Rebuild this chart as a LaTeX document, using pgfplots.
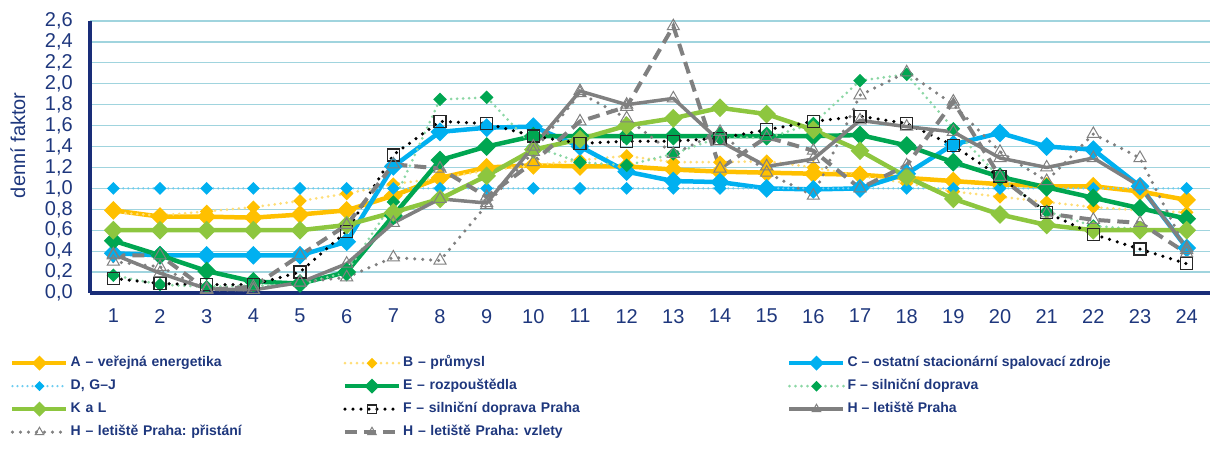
\documentclass[border=0pt]{standalone}
\usepackage{fontspec}
\setmainfont{Liberation Sans}
\usepackage{pgfplots}
\usepackage{pgfplotstable}
\pgfplotsset{compat=1.18}
\frenchspacing

\definecolor{navy}{RGB}{30,55,125}
\definecolor{axnavy}{RGB}{25,45,120}
\definecolor{gridc}{RGB}{160,212,222}
\definecolor{cA}{RGB}{255,192,0}
\definecolor{cB}{RGB}{255,222,120}
\definecolor{cC}{RGB}{0,176,240}
\definecolor{cD}{RGB}{110,205,240}
\definecolor{cE}{RGB}{0,166,81}
\definecolor{cF}{RGB}{140,215,165}
\definecolor{cK}{RGB}{141,198,63}
\definecolor{cH}{RGB}{128,128,128}

% hodinove faktory
\pgfplotstableread{
h  A    B    C    D    E    F    K    FP   H    HP   HV
1  0.79 0.77 0.38 1.00 0.50 0.17 0.60 0.14 0.37 0.30 0.36
2  0.73 0.74 0.36 1.00 0.36 0.08 0.60 0.09 0.19 0.25 0.36
3  0.73 0.78 0.36 1.00 0.21 0.06 0.60 0.08 0.04 0.03 0.03
4  0.72 0.82 0.36 1.00 0.11 0.07 0.60 0.08 0.03 0.03 0.06
5  0.75 0.88 0.36 1.00 0.09 0.08 0.60 0.20 0.10 0.10 0.36
6  0.79 0.95 0.49 1.00 0.20 0.20 0.65 0.59 0.28 0.15 0.65
7  0.93 1.04 1.21 1.00 0.74 0.87 0.77 1.32 0.67 0.34 1.23
8  1.10 1.10 1.54 1.00 1.27 1.85 0.90 1.64 0.90 0.31 1.19
9  1.20 1.17 1.58 1.00 1.40 1.87 1.12 1.62 0.86 0.84 0.92
10 1.22 1.22 1.59 1.00 1.50 1.40 1.37 1.50 1.40 1.35 1.25
11 1.21 1.27 1.40 1.00 1.50 1.25 1.47 1.43 1.93 1.91 1.64
12 1.21 1.31 1.16 1.00 1.50 1.22 1.60 1.45 1.80 1.67 1.78
13 1.18 1.25 1.07 1.00 1.50 1.33 1.67 1.45 1.86 1.33 2.55
14 1.16 1.25 1.06 1.00 1.50 1.49 1.77 1.48 1.45 1.54 1.19
15 1.15 1.26 1.00 1.00 1.50 1.48 1.71 1.56 1.21 1.15 1.49
16 1.14 1.20 0.99 1.00 1.50 1.62 1.56 1.64 1.28 0.93 1.36
17 1.13 1.12 1.00 1.00 1.51 2.03 1.36 1.69 1.65 1.89 1.00
18 1.10 1.05 1.14 1.00 1.41 2.09 1.11 1.62 1.59 2.11 1.22
19 1.07 0.97 1.42 1.00 1.25 1.57 0.90 1.41 1.54 1.80 1.83
20 1.04 0.92 1.53 1.00 1.11 1.10 0.75 1.11 1.29 1.35 1.11
21 1.02 0.87 1.40 1.00 1.01 0.78 0.65 0.77 1.20 1.07 0.76
22 1.02 0.82 1.37 1.00 0.91 0.64 0.60 0.56 1.29 1.52 0.70
23 0.97 0.79 1.02 1.00 0.81 0.61 0.60 0.42 1.02 1.29 0.67
24 0.89 0.77 0.43 1.00 0.71 0.60 0.60 0.28 0.43 0.41 0.38
}\data

\begin{document}
\begin{tikzpicture}
\begin{axis}[
  name=ax,
  scale only axis,
  width=1120pt, height=272pt,
  xmin=0.5, xmax=24.5,
  ymin=0, ymax=2.6,
  xtick={1,...,24},
  ytick={0,0.2,0.4,0.6,0.8,1.0,1.2,1.4,1.6,1.8,2.0,2.2,2.4,2.6},
  axis lines=left,
  axis line style={-, line width=4pt, draw=axnavy},
  major tick length=0pt,
  ymajorgrids,
  grid style={draw=gridc, line width=1.3pt},
  clip=false,
  /pgf/number format/assume math mode=true,
  yticklabel style={/pgf/number format/fixed, /pgf/number format/fixed zerofill,
    /pgf/number format/precision=1, /pgf/number format/use comma},
  ticklabel style={font=\fontsize{20}{22}\selectfont, text=navy, inner sep=0pt},
  yticklabel style={xshift=-17pt},
  xticklabel style={yshift=-16pt},
  ylabel={denní faktor},
  ylabel style={font=\fontsize{20}{22}\selectfont, text=navy,
    at={(axis description cs:-0.0643,0.543)}, anchor=center},
  legend columns=3,
  legend cell align=left,
  legend image code/.code={\draw[mark repeat=2,mark phase=2,#1,every mark/.append style={scale=0.7}] plot coordinates {(0pt,0pt) (27pt,0pt) (54pt,0pt)};},
  legend style={draw=none, fill=none, inner sep=0pt,
    at={(-0.0714,-0.226)}, anchor=north west,
    font=\fontsize{14}{16}\selectfont\bfseries, text=navy,
    nodes={inner sep=2pt, text height=10pt, text depth=3pt},
    row sep=6pt, column sep=0pt,
    /tikz/column 2/.style={text width=270pt},
    /tikz/column 4/.style={text width=382pt}},
  big/.style={line width=4.5pt, mark=square*, mark size=4.4pt, mark options={solid, rotate=45, fill=#1}},
  small/.style={mark=square*, mark size=3.3pt, mark options={solid, rotate=45, draw=#1, fill=#1}},
  dots/.style={line cap=round, dash pattern=on 0pt off #1},
  tri/.style={mark=triangle, mark size=7pt, mark options={solid, line width=1pt, fill=none}},
]
\addplot[cA, big=cA] table[x=h, y=A] {\data};
\addlegendentry{A – veřejná energetika}
\addplot[cB, line width=3pt, dots=6pt, small=cA] table[x=h, y=B] {\data};
\addlegendentry{B – průmysl}
\addplot[cC, big=cC] table[x=h, y=C] {\data};
\addlegendentry{C – ostatní stacionární spalovací zdroje}
\addplot[cD, line width=2.5pt, dots=5pt, small=cC] table[x=h, y=D] {\data};
\addlegendentry{D, G–J}
\addplot[cE, big=cE] table[x=h, y=E] {\data};
\addlegendentry{E – rozpouštědla}
\addplot[cF, line width=3pt, dots=6pt, small=cE] table[x=h, y=F] {\data};
\addlegendentry{F – silniční doprava}
\addplot[cK, big=cK] table[x=h, y=K] {\data};
\addlegendentry{K a L}
\addplot[black, line width=3.5pt, dots=8pt, mark=square, mark size=6pt, mark options={solid, line width=1.2pt, draw=black!85}]
  table[x=h, y=FP] {\data};
\addlegendentry{F – silniční doprava Praha}
\addplot[cH, line width=3.5pt, tri] table[x=h, y=H] {\data};
\addlegendentry{H – letiště Praha}
\addplot[cH, line width=3.5pt, dots=8pt, tri] table[x=h, y=HP] {\data};
\addlegendentry{H – letiště Praha: přistání}
\addplot[cH, line width=4pt, dash pattern=on 12pt off 7pt, tri] table[x=h, y=HV] {\data};
\addlegendentry{H – letiště Praha: vzlety}
\end{axis}
\pgfresetboundingbox
\path ([xshift=-90pt, yshift=-168pt]ax.south west) rectangle ([xshift=12pt, yshift=21pt]ax.north east);
\end{tikzpicture}
\end{document}
